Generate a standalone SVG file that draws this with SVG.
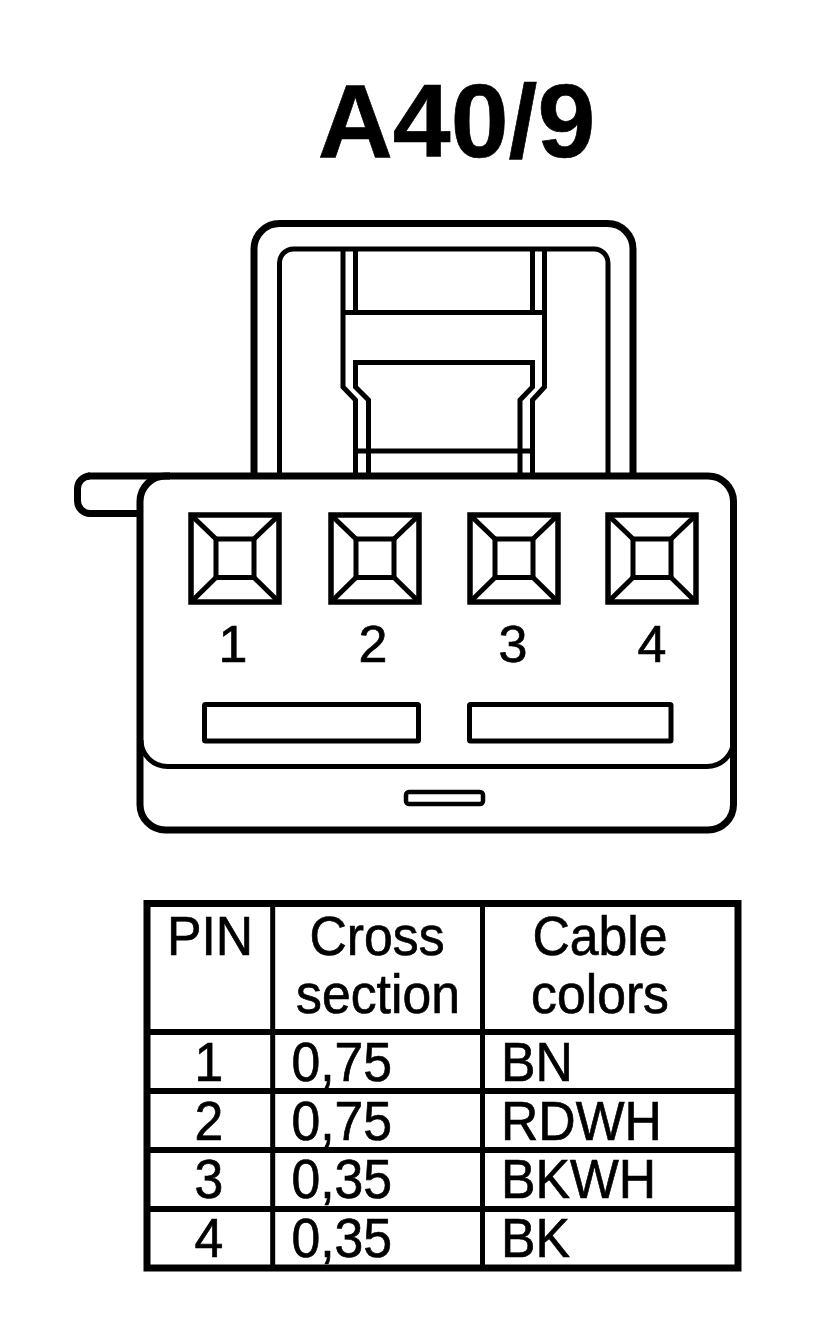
<svg xmlns="http://www.w3.org/2000/svg" width="816" height="1330" viewBox="0 0 816 1330">
<style>
.l{fill:none;stroke:#000;stroke-width:5}
.o{fill:none;stroke:#000;stroke-width:7}
.p{fill:none;stroke:#000;stroke-width:5.5}
.t{font-family:"Liberation Sans",Arial,sans-serif;fill:#000;stroke:#000;stroke-width:.7}
.c{font-size:55px;text-anchor:middle}
.s{font-size:55px}
.n{font-size:52px;text-anchor:middle}
</style>
<defs>
<g id="pin">
<rect class="p" x="0" y="0" width="88" height="87"/>
<rect class="l" x="25" y="24" width="38" height="38.500"/>
<path class="l" d="M0 0L25 24M88 0L63 24M0 87L25 62.500M88 87L63 62.500"/>
</g>
</defs>
<rect width="816" height="1330" fill="#fff"/>
<text id="title" class="t" x="456.500" y="157" font-size="104" font-weight="bold" text-anchor="middle">A40/9</text>
<g id="latch">
<path class="o" d="M254 476V249A25.500 25.500 0 0 1 279.500 223.500H607.500A25.500 25.500 0 0 1 633 249V476"/>
<path class="l" d="M279.500 476V263A14 14 0 0 1 293.500 249H594A14 14 0 0 1 608 263V476"/>
<path class="l" d="M343 249V387L355.500 400V476M544.500 249V387L532.500 400V476M355.500 249V312.500M532.500 249V312.500M343 312.500H544.500"/>
<path class="l" d="M368.500 476V400L355.500 387V362.500H532.500V387L520 400V476M355.500 451H532.500"/>
</g>
<g id="housing">
<path class="o" d="M140 513.500H90A12.500 12.500 0 0 1 77.500 501V488.500A12.500 12.500 0 0 1 90 476"/>
<path d="M166 476H708A25.500 25.500 0 0 1 733.500 501.500V804.500A25.500 25.500 0 0 1 708 830H165.500A25.500 25.500 0 0 1 140 804.500V501.500A25.500 25.500 0 0 1 165.500 476Z" fill="#fff" stroke="#000" stroke-width="7"/>
<path class="o" d="M88 476H170"/>
<path class="l" d="M141 740A26.500 26.500 0 0 0 167.500 766.500H707A26.500 26.500 0 0 0 733.500 740"/>
<rect class="l" x="204.500" y="704.500" width="214" height="36.500" rx="1"/>
<rect class="l" x="469.500" y="704.500" width="201.500" height="36.500" rx="1"/>
<rect x="406" y="792" width="77" height="12" rx="3" fill="none" stroke="#000" stroke-width="4.500"/>
</g>
<g id="pin1"><use href="#pin" x="191" y="515"/><text class="t n" x="233" y="662">1</text></g>
<g id="pin2"><use href="#pin" x="331" y="515"/><text class="t n" x="373" y="662">2</text></g>
<g id="pin3"><use href="#pin" x="470" y="515"/><text class="t n" x="513" y="662">3</text></g>
<g id="pin4"><use href="#pin" x="608" y="515"/><text class="t n" x="652" y="662">4</text></g>
<g id="table">
<rect x="147" y="903.500" width="591" height="364.500" fill="none" stroke="#000" stroke-width="7"/>
<path class="l" d="M272.700 903V1268M482.500 903V1268"/>
<path d="M147 1032H738M147 1091H738M147 1150H738M147 1209H738" fill="none" stroke="#000" stroke-width="6"/>
<g class="t c">
<text transform="translate(210 955) scale(.94 1)">PIN</text>
<text transform="translate(377 955) scale(.94 1)">Cross</text>
<text transform="translate(378 1013) scale(.94 1)">section</text>
<text transform="translate(600 955) scale(.94 1)">Cable</text>
<text transform="translate(600 1013) scale(.94 1)">colors</text>
<text transform="translate(209 1081) scale(.94 1)">1</text>
<text transform="translate(209 1140) scale(.94 1)">2</text>
<text transform="translate(209 1198) scale(.94 1)">3</text>
<text transform="translate(209 1257) scale(.94 1)">4</text>
</g>
<g class="t s">
<text transform="translate(291.500 1081) scale(.94 1)">0,75</text>
<text transform="translate(291.500 1140) scale(.94 1)">0,75</text>
<text transform="translate(291.500 1198) scale(.94 1)">0,35</text>
<text transform="translate(291.500 1257) scale(.94 1)">0,35</text>
<text transform="translate(501 1081) scale(.94 1)">BN</text>
<text transform="translate(501 1140) scale(.94 1)">RDWH</text>
<text transform="translate(501 1198) scale(.94 1)">BKWH</text>
<text transform="translate(501 1257) scale(.94 1)">BK</text>
</g>
</g>
</svg>
